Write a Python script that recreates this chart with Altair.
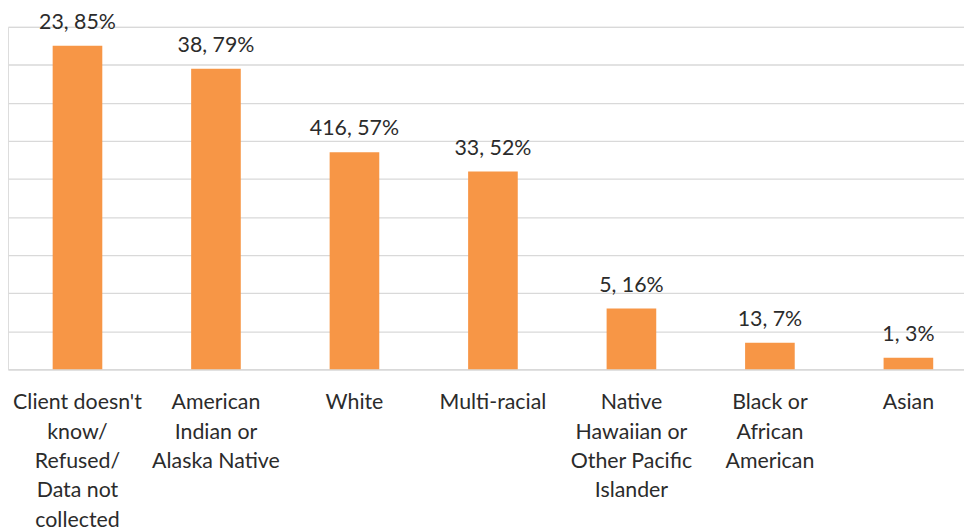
import altair as alt
import pandas as pd

categories = [
    "Client doesn't|know/|Refused/|Data not|collected",
    "American|Indian or|Alaska Native",
    "White",
    "Multi-racial",
    "Native|Hawaiian or|Other Pacific|Islander",
    "Black or|African|American",
    "Asian",
]
counts = [23, 38, 416, 33, 5, 13, 1]
percents = [85, 79, 57, 52, 16, 7, 3]
grid_values = [0.0, 0.1, 0.2, 0.3, 0.4, 0.5, 0.6, 0.7, 0.8, 0.9]

df = pd.DataFrame({
    "cat": categories,
    "count": counts,
    "pct": [p / 100 for p in percents],
    "label": [f"{c}, {p}%" for c, p in zip(counts, percents)],
})

FONT = "Lato"
TXT = "#2b2b2b"

x = alt.X(
    "cat:N",
    sort=categories,
    title=None,
    scale=alt.Scale(paddingInner=0.6416, paddingOuter=0.2724, align=0.592),
    axis=alt.Axis(
        labelExpr="split(datum.label, '|')",
        labelAngle=0,
        labelFont=FONT,
        labelFontSize=21.5,
        labelColor=TXT,
        labelLineHeight=29.5,
        labelPadding=23,
        labelBaseline="top",
        ticks=False,
        domain=True,
        domainColor="#D9D9D9",
        domainWidth=1.3,
        labelLimit=300,
    ),
)
y = alt.Y(
    "pct:Q",
    title=None,
    scale=alt.Scale(domain=[0, 0.9], nice=False),
    axis=alt.Axis(
        values=grid_values,
        labels=False,
        ticks=False,
        domain=False,
        grid=True,
        gridColor="#D9D9D9",
        gridWidth=1.3,
    ),
)

base = alt.Chart(df).encode(x=x, y=y)
bars = base.mark_bar(color="#F79646")
text = base.mark_text(
    dy=-23, font=FONT, fontSize=21.5, color=TXT, baseline="middle"
).encode(text="label:N")

chart = (
    alt.layer(bars, text)
    .properties(
        width=963,
        height=345,
        autosize=alt.AutoSizeParams(type="none"),
        padding={"left": 0, "right": 0, "top": 17, "bottom": 161},
    )
    .configure_view(stroke=None)
    .configure(background="white")
)

chart.save("out.html", embed_options={"renderer": "svg", "actions": False})
